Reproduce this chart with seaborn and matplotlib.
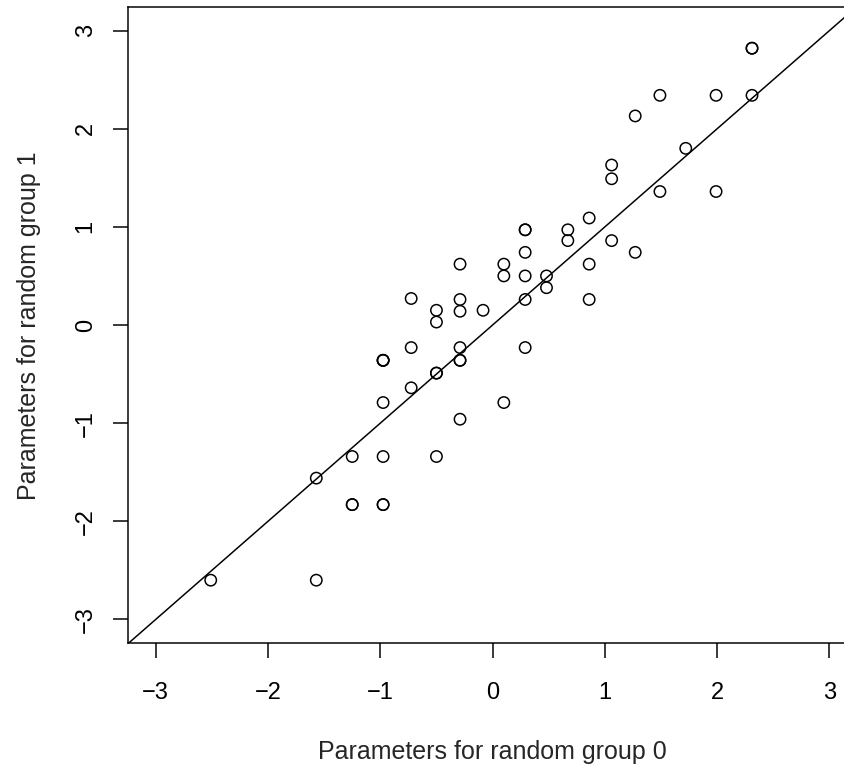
import matplotlib
matplotlib.use("Agg")
import matplotlib.pyplot as plt
import seaborn as sns
import pandas as pd

# Data (duplicates kept: overplotted points)
group0 = [-2.51, -1.57, -1.57, -1.25, -1.25, -1.25, -0.975, -0.975, -0.975, -0.975,
          -0.975, -0.975, -0.975, -0.725, -0.725, -0.725, -0.50, -0.50, -0.50, -0.50,
          -0.50, -0.29, -0.29, -0.29, -0.29, -0.29, -0.29, -0.29, -0.085, 0.10,
          0.10, 0.10, 0.29, 0.29, 0.29, 0.29, 0.29, 0.29, 0.48, 0.48,
          0.67, 0.67, 0.86, 0.86, 0.86, 1.06, 1.06, 1.06, 1.27, 1.27,
          1.49, 1.49, 1.72, 1.99, 1.99, 2.31, 2.31, 2.31]
group1 = [-2.60, -2.60, -1.56, -1.34, -1.83, -1.83, -1.83, -1.83, -1.34, -0.79,
          -0.36, -0.36, -0.36, -0.64, -0.23, 0.27, -1.34, -0.49, -0.49, 0.03,
          0.15, -0.96, -0.36, -0.36, -0.23, 0.14, 0.26, 0.62, 0.15, -0.79,
          0.50, 0.62, -0.23, 0.26, 0.50, 0.74, 0.97, 0.97, 0.50, 0.38,
          0.86, 0.97, 0.26, 0.62, 1.09, 0.86, 1.49, 1.63, 0.74, 2.13,
          1.36, 2.34, 1.80, 1.36, 2.34, 2.34, 2.82, 2.82]

xticks = [-3, -2, -1, 0, 1, 2, 3]
yticks = [-3, -2, -1, 0, 1, 2, 3]
xlabel = "Parameters for random group 0"
ylabel = "Parameters for random group 1"

df = pd.DataFrame({"g0": group0, "g1": group1})

sns.set_style("ticks")
plt.rcParams["font.family"] = ["Liberation Sans", "DejaVu Sans"]

W, H = 845, 767
fig = plt.figure(figsize=(W / 100, H / 100), dpi=100)
left, right, top, bottom = 128.3, 856.9, 7.0, 643.0
ax = fig.add_axes([left / W, 1 - bottom / H, (right - left) / W, (bottom - top) / H])

lw = 1.08
sns.scatterplot(data=df, x="g0", y="g1", ax=ax, marker="o", s=67,
                facecolor="none", edgecolor="black", linewidth=lw, legend=False)
ax.axline((0, 0), slope=1, color="black", linewidth=lw)

ax.set_xlim(-3.244, 3.244)
ax.set_ylim(-3.24, 3.24)
ax.set_xticks(xticks)
ax.set_yticks(yticks)
ax.set_xticklabels([str(t).replace("-", "\u2212") for t in xticks])
ax.set_yticklabels([str(t).replace("-", "\u2212") for t in yticks],
                   rotation=90, va="center")
ax.tick_params(axis="both", length=10.8, width=lw, color="black",
               labelsize=17, labelcolor="black", direction="out")
ax.tick_params(axis="x", pad=17)
ax.tick_params(axis="y", pad=12)
for sp in ax.spines.values():
    sp.set_linewidth(lw)
    sp.set_color("black")
ax.spines["right"].set_visible(False)
ax.set_xlabel("")
ax.set_ylabel("")

fig.text(492.6 / W, 1 - 752 / H, xlabel, ha="center", va="center", fontsize=18)
fig.text(29 / W, 1 - 326 / H, ylabel, ha="center", va="center", fontsize=18,
         rotation=90)

fig.savefig("out.png", dpi=100)
